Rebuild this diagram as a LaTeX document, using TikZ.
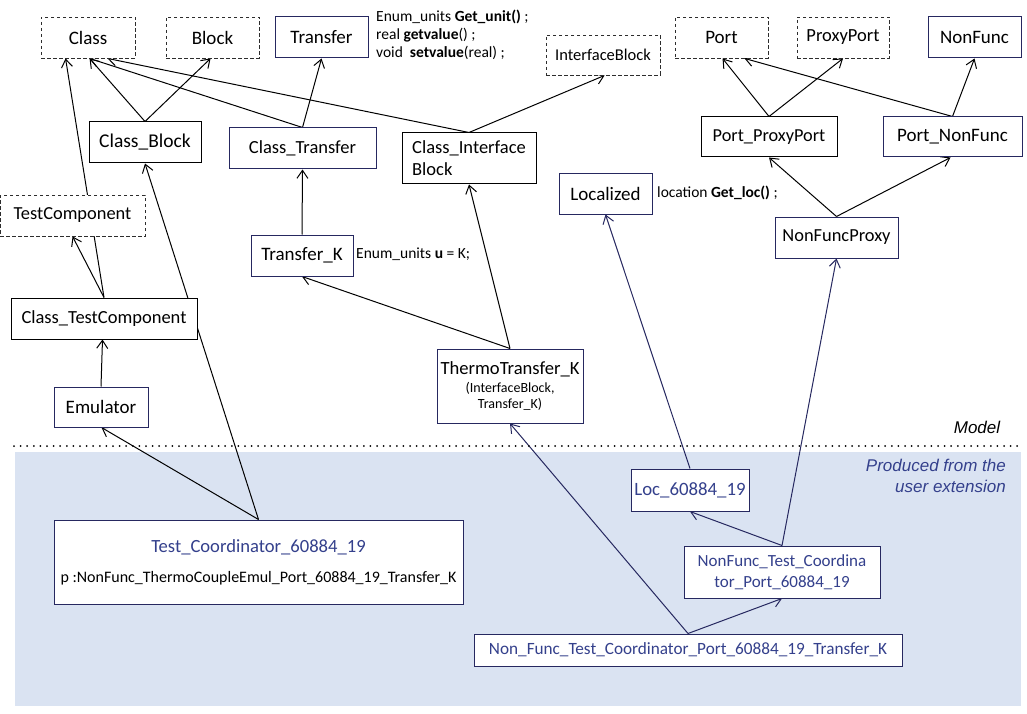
\documentclass[tikz,border=0pt]{standalone}
\usepackage{fontspec}
\setmainfont{Carlito}
\newfontfamily\arialfont{Liberation Sans}
\usetikzlibrary{arrows.meta}
\definecolor{navyline}{RGB}{38,40,96}
\definecolor{navytext}{RGB}{52,64,140}
\definecolor{extfill}{RGB}{218,227,242}
\definecolor{dashgray}{RGB}{45,45,45}
\newcommand\fsz[2]{\fontsize{#1}{#2}\selectfont}
\pgfdeclarelayer{shade}
\pgfdeclarelayer{edges}
\pgfsetlayers{shade,edges,main}

\begin{document}
\begin{tikzpicture}[x=1pt,y=-1pt,
  box/.style={draw=black, fill=white, line width=1pt, inner sep=0pt,
              font=\fsz{19}{22}, align=center},
  ubox/.style={box, draw=navyline},
  abox/.style={box, draw=dashgray, dash pattern=on 3.5pt off 2.5pt, line width=0.9pt},
  ext/.style={box, draw=navyline, text=navytext},
  link/.style={line width=1pt, -{Straight Barb[length=8pt,width=11pt]}},
  ulink/.style={link, draw=navyline},
  note/.style={inner sep=0pt, anchor=west, align=left, font=\fsz{15.5}{18}},
]
\useasboundingbox (0,0) rectangle (1027,714);

% backgrounds: page and the user-extension area
\begin{pgfonlayer}{shade}
  \fill[white] (0,0) rectangle (1027,714);
  \fill[extfill] (15,452) rectangle (1021,706);
\end{pgfonlayer}

% ---- abstract model classes (top row)
\node[abox, minimum width=94pt, minimum height=41pt] (cls) at (88,37.5) {Class};
\node[abox, minimum width=93pt, minimum height=41pt] (blk) at (212.5,37.5) {Block};
\node[ubox, minimum width=93pt, minimum height=41pt] (trf) at (321.5,37.5) {Transfer};
\node[abox, minimum width=114pt, minimum height=40pt, font=\fsz{16.5}{19}] (ifb) at (603,55) {InterfaceBlock};
\node[abox, minimum width=93pt, minimum height=41pt] (prt) at (721.5,37.5) {Port};
\node[abox, minimum width=92pt, minimum height=41pt, font=\fsz{18.5}{22}] (pxp) at (843,37.5) {ProxyPort};
\node[ubox, minimum width=93pt, minimum height=41pt] (nfn) at (974.5,37.5) {NonFunc};

\node[note] (trfops) at (376,35) {Enum\_units \textbf{Get\_unit()} ;\\real \textbf{getvalue}() ;\\void\ \ \textbf{setvalue}(real) ;};

% ---- combined classes
\node[box, minimum width=112pt, minimum height=41pt, font=\fsz{19.5}{22}] (cblk) at (145,142.5) {Class\_Block};
\node[ubox, minimum width=147pt, minimum height=41pt, font=\fsz{18.5}{22}] (ctrf) at (302.5,148.5) {Class\_Transfer};
\node[box, minimum width=134pt, minimum height=51pt, align=left, font=\fsz{18.5}{22}] (cifb) at (469,158.5) {Class\_Interface\\Block};
\node[box, minimum width=136pt, minimum height=40pt, font=\fsz{18.3}{22}] (ppp) at (769,137) {Port\_ProxyPort};
\node[ubox, minimum width=139pt, minimum height=40pt] (pnf) at (952.5,137) {Port\_NonFunc};

\node[ubox, minimum width=93pt, minimum height=40pt] (loc) at (605.5,194) {Localized};
\node[note] (locops) at (657,193) {location \textbf{Get\_loc()} ;};

\node[abox, minimum width=145pt, minimum height=41pt, font=\fsz{18.4}{22}] (tcmp) at (72.5,215.5) {TestComponent};
\node[ubox, minimum width=102pt, minimum height=41pt] (trk) at (302,255.5) {Transfer\_K};
\node[note] (trkval) at (356,254) {Enum\_units \textbf{u} = K;};
\node[ubox, minimum width=123pt, minimum height=41pt, font=\fsz{18.4}{22}] (nfp) at (836.5,237.5) {NonFuncProxy};

\node[box, minimum width=186pt, minimum height=41pt, font=\fsz{18.5}{22}] (ctc) at (104,318.5) {Class\_TestComponent};
\node[ubox, minimum width=94pt, minimum height=40pt] (emu) at (101,407) {Emulator};
\node[ubox, minimum width=146pt, minimum height=74pt, font=\fsz{14}{16.5}] (tht) at (510,386)
  {{\fsz{18.6}{22}ThermoTransfer\_K}\\[1.5pt](InterfaceBlock,\\Transfer\_K)};

% ---- separator between model and user extension
\coordinate (sepL) at (14,446);
\coordinate (sepR) at (1020,446);
\draw[line width=2pt, line cap=round, dash pattern=on 0pt off 6.6pt] (sepL) -- (sepR);
\node[font=\arialfont\itshape\fsz{17}{20}] (mdl) at (977,427) {Model};
\node[anchor=north east, align=right, inner sep=0pt, text=navytext,
      font=\arialfont\itshape\fsz{17}{21}] (extlbl) at (1006,459) {Produced from the\\user extension};

% ---- classes produced from the user extension
\node[ext, minimum width=118pt, minimum height=42pt, font=\fsz{18.8}{22}] (lc) at (690,490) {Loc\_60884\_19};
\node[ext, minimum width=196pt, minimum height=52pt, font=\fsz{17}{21}] (nftc) at (782,572) {NonFunc\_Test\_Coordina\\tor\_Port\_60884\_19};
\node[ext, minimum width=428pt, minimum height=32pt, font=\fsz{17.2}{20}] (nfk) at (688,650) {Non\_Func\_Test\_Coordinator\_Port\_60884\_19\_Transfer\_K};
\node[ubox, minimum width=409pt, minimum height=84pt, font=\fsz{16}{19}] (tco) at (258.5,562)
  {{\color{navytext}\fsz{18.6}{22}Test\_Coordinator\_60884\_19}\\[11pt]p :NonFunc\_ThermoCoupleEmul\_Port\_60884\_19\_Transfer\_K};

% ---- inheritance links
\begin{pgfonlayer}{edges}
  \draw[link] (cblk.north) -- ([xshift=49pt]cls.south west);
  \draw[link] (cblk.north) -- ([xshift=45pt]blk.south west);
  \draw[link] (ctrf.north) -- ([xshift=49pt]cls.south west);
  \draw[link] (ctrf.north) -- ([xshift=47pt]trf.south west);
  \draw[link] (cifb.north) -- ([xshift=67pt]cls.south west);
  \draw[link] (cifb.north) -- ([xshift=59pt]ifb.south west);
  \draw[link] (ctc.north) -- ([xshift=25pt]cls.south west);
  \draw[link] (ctc.north) -- ([xshift=73pt]tcmp.south west);
  \draw[link] (emu.north) -- ([xshift=92pt]ctc.south west);
  \draw[link] (tco.north) -- ([xshift=48pt]emu.south west);
  \draw[link] (tco.north) -- (cblk.south);
  \draw[link] (trk.north) -- (ctrf.south);
  \draw[link] (tht.north) -- (trk.south);
  \draw[link] (tht.north) -- (cifb.south);
  \draw[link] (nfp.north) -- (ppp.south);
  \draw[link] (nfp.north) -- ([xshift=-2pt]pnf.south);
  \draw[link] (ppp.north) -- ([xshift=48pt]prt.south west);
  \draw[link] (ppp.north) -- (pxp.south);
  \draw[link] (pnf.north) -- ([xshift=70pt]prt.south west);
  \draw[link] (pnf.north) -- (nfn.south);
  \draw[ulink] (lc.north) -- (loc.south);
  \draw[ulink] (nftc.north) -- (lc.south);
  \draw[ulink] (nftc.north) -- (nfp.south);
  \draw[ulink] (nfk.north) -- (nftc.south);
  \draw[ulink] (nfk.north) -- (tht.south);
\end{pgfonlayer}
\end{tikzpicture}
\end{document}
